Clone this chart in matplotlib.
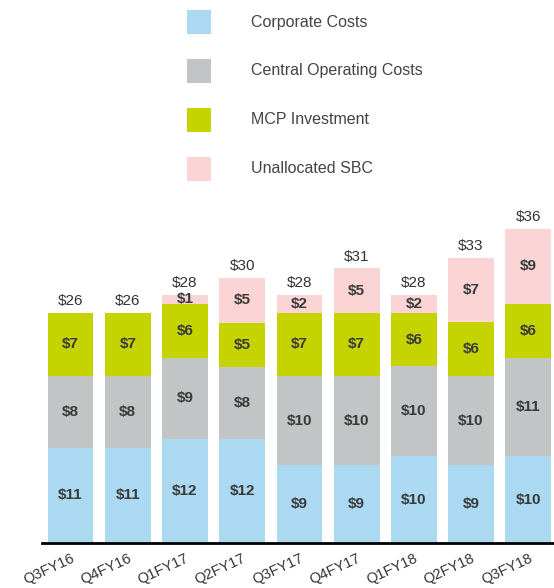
import numpy as np
import matplotlib.pyplot as plt

plt.rcParams['font.family'] = ['Liberation Sans', 'DejaVu Sans']

quarters = ['Q3FY16', 'Q4FY16', 'Q1FY17', 'Q2FY17', 'Q3FY17',
            'Q4FY17', 'Q1FY18', 'Q2FY18', 'Q3FY18']
corporate = [10.9, 10.9, 11.9, 11.9, 8.9, 8.9, 9.9, 8.9, 9.9]
central_op = [8.2, 8.2, 9.3, 8.2, 10.2, 10.2, 10.3, 10.2, 11.3]
mcp = [7.2, 7.2, 6.1, 5.1, 7.2, 7.2, 6.1, 6.2, 6.1]
sbc = [0.0, 0.0, 1.1, 5.1, 2.1, 5.1, 2.1, 7.3, 8.6]

series = [
    ('Corporate Costs', corporate, '#abd9f1'),
    ('Central Operating Costs', central_op, '#c1c5c5'),
    ('MCP Investment', mcp, '#c5d400'),
    ('Unallocated SBC', sbc, '#fbd5d5'),
]

fig = plt.figure(figsize=(5.54, 5.88), dpi=100)
ax = fig.add_axes([42 / 554, 45 / 588, 1 - 42 / 554, 350 / 588])

x = np.arange(len(quarters))
bottom = np.zeros(len(quarters))
txt_color = '#333333'
for name, vals, color in series:
    vals = np.asarray(vals)
    ax.bar(x, vals, width=0.8, bottom=bottom, color=color, linewidth=0)
    for xi, b, v in zip(x, bottom, vals):
        if v > 0:
            ax.text(xi, b + v / 2, f'${round(v):.0f}', ha='center', va='center',
                    fontsize=11, fontweight='bold', color='#3a3a3a')
    bottom = bottom + vals

# totals above bars
for xi, tot in zip(x, bottom):
    ax.text(xi, tot + 0.5, f'${round(tot):.0f}', ha='center', va='bottom',
            fontsize=11, color=txt_color)

ax.set_xlim(-0.5, 8.45)
ax.set_ylim(0, 40)
for s in ['top', 'right', 'left']:
    ax.spines[s].set_visible(False)
ax.spines['bottom'].set_linewidth(2)
ax.spines['bottom'].set_color('black')
ax.set_yticks([])
ax.set_xticks(x)
ax.set_xticklabels(quarters, rotation=25, ha='right', rotation_mode='anchor',
                   fontsize=10.5, color=txt_color)
ax.tick_params(axis='x', length=0, pad=6)

# legend drawn as squares and labels at top
leg_y = [22, 71, 120, 169]
for (name, vals, color), yy in zip(series, leg_y):
    fig.patches.append(plt.Rectangle((187 / 554, 1 - (yy + 12) / 588), 24 / 554, 24 / 588,
                                     transform=fig.transFigure, color=color, lw=0))
    fig.text(251 / 554, 1 - yy / 588, name, ha='left', va='center',
             fontsize=11.5, color='#444444')

fig.savefig('out.png', dpi=100)
